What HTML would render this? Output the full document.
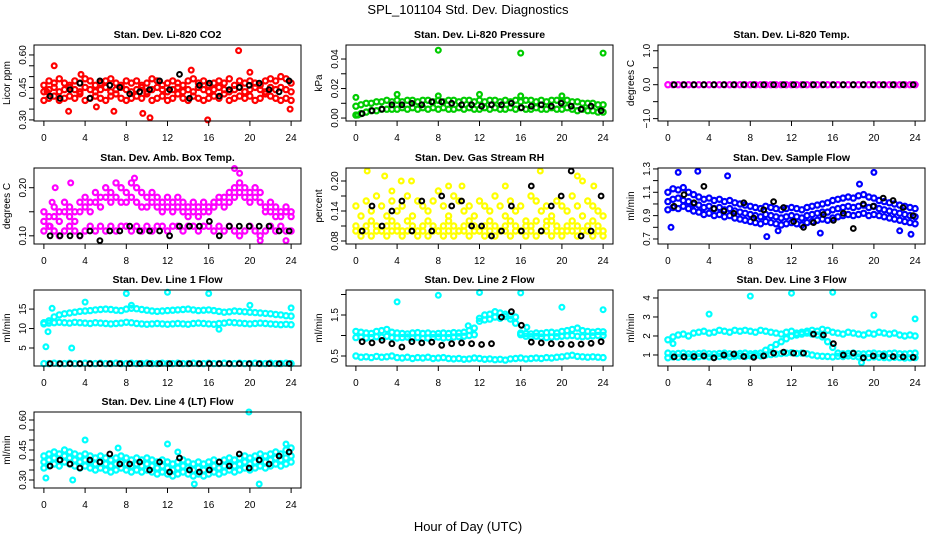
<!DOCTYPE html>
<html><head><meta charset="utf-8"><style>
html,body{margin:0;padding:0;background:#fff;}
svg{display:block;font-family:"Liberation Sans",sans-serif;}
</style></head><body>
<svg id="chart" width="936" height="540" viewBox="0 0 936 540" xmlns="http://www.w3.org/2000/svg">
<text x="468" y="14" text-anchor="middle" font-size="13">SPL_101104  Std. Dev. Diagnostics</text>
<text x="468" y="531" text-anchor="middle" font-size="13">Hour of Day (UTC)</text>
</svg>
<script>
// ---- data (half-hourly colored values, hourly black values) ----
const hourTicks = [0,4,8,12,16,20,24];
// P1 CO2
const co2Low  = [0.39,0.40,0.41,0.39,0.40,0.41,0.40,0.42,0.39,0.40,0.41,0.40,0.39,0.41,0.42,0.40,0.39,0.40,0.41,0.40,0.42,0.39,0.40,0.41,0.39,0.40,0.42,0.40,0.39,0.41,0.40,0.39,0.40,0.41,0.40,0.42,0.39,0.40,0.41,0.40,0.41,0.39,0.40,0.42,0.41,0.40,0.39,0.40,0.39];
const co2Mid  = [0.43,0.44,0.45,0.43,0.44,0.45,0.44,0.43,0.45,0.44,0.43,0.44,0.45,0.43,0.44,0.45,0.44,0.43,0.44,0.45,0.43,0.44,0.45,0.44,0.43,0.44,0.45,0.43,0.44,0.43,0.45,0.44,0.43,0.44,0.45,0.44,0.43,0.44,0.45,0.43,0.44,0.45,0.44,0.43,0.45,0.44,0.45,0.44,0.43];
const co2High = [0.46,0.48,0.47,0.49,0.47,0.46,0.48,0.47,0.49,0.48,0.46,0.47,0.48,0.49,0.47,0.46,0.48,0.47,0.48,0.46,0.47,0.49,0.48,0.46,0.47,0.48,0.47,0.46,0.48,0.49,0.47,0.48,0.46,0.47,0.48,0.47,0.49,0.46,0.48,0.47,0.48,0.47,0.46,0.48,0.49,0.48,0.50,0.49,0.47];
const co2OutT = [1.0,18.9,10.3,15.9,14.3,20.0,9.6,0.3,2.4,6.8,23.9,3.6,5.1];
const co2OutV = [0.55,0.62,0.31,0.30,0.53,0.52,0.33,0.43,0.34,0.34,0.35,0.51,0.36];
const co2Black = [0.41,0.40,0.44,0.47,0.40,0.48,0.46,0.45,0.42,0.43,0.44,0.48,0.44,0.51,0.40,0.46,0.47,0.41,0.44,0.45,0.46,0.47,0.44,0.43,0.48];
// P2 pressure
const prLow  = [0.002,0.003,0.004,0.005,0.005,0.006,0.006,0.006,0.006,0.007,0.006,0.007,0.006,0.007,0.006,0.007,0.006,0.007,0.006,0.006,0.007,0.006,0.007,0.006,0.006,0.007,0.006,0.007,0.006,0.006,0.007,0.006,0.007,0.006,0.006,0.007,0.006,0.006,0.007,0.006,0.006,0.007,0.006,0.005,0.006,0.005,0.005,0.004,0.004];
const prHigh = [0.008,0.009,0.010,0.010,0.011,0.011,0.012,0.011,0.012,0.011,0.012,0.012,0.011,0.012,0.012,0.011,0.012,0.011,0.012,0.012,0.011,0.012,0.012,0.011,0.012,0.011,0.012,0.012,0.011,0.012,0.011,0.012,0.011,0.012,0.012,0.011,0.012,0.011,0.012,0.012,0.011,0.012,0.011,0.011,0.010,0.010,0.010,0.009,0.009];
const prOutT = [8.0,16.0,24.0,0.0,4.0,12.0,8.0,16.0,20.0,0.2];
const prOutV = [0.046,0.044,0.044,0.014,0.016,0.016,0.015,0.015,0.015,0.002];
const prBlack = [0.003,0.005,0.006,0.009,0.009,0.010,0.009,0.011,0.011,0.010,0.009,0.009,0.008,0.009,0.009,0.010,0.007,0.008,0.009,0.008,0.010,0.008,0.006,0.008,0.005];
// P3 temp
const tmpVals = [0,0,0,0,0,0,0,0,0,0,0,0,0,0,0,0,0,0,0,0,0,0,0,0,0,0,0,0,0,0,0,0,0,0,0,0,0,0,0,0,0,0,0,0,0,0,0,0,0];
const tmpBlack = [0,0,0,0,0,0,0,0,0,0,0,0,0,0,0,0,0,0,0,0,0,0,0,0,0];
// P4 amb box temp
const boxHigh = [0.15,0.14,0.16,0.15,0.17,0.16,0.15,0.17,0.18,0.17,0.19,0.18,0.20,0.19,0.21,0.20,0.19,0.21,0.20,0.19,0.18,0.19,0.18,0.17,0.18,0.17,0.18,0.17,0.16,0.17,0.16,0.17,0.16,0.17,0.18,0.18,0.19,0.20,0.21,0.20,0.19,0.20,0.19,0.16,0.17,0.16,0.15,0.16,0.15];
const boxMid  = [0.13,0.12,0.14,0.13,0.15,0.14,0.13,0.15,0.16,0.15,0.17,0.16,0.18,0.17,0.18,0.17,0.17,0.18,0.17,0.16,0.16,0.17,0.16,0.15,0.16,0.15,0.16,0.15,0.14,0.15,0.14,0.15,0.15,0.16,0.17,0.16,0.17,0.18,0.19,0.18,0.17,0.18,0.17,0.15,0.15,0.14,0.14,0.15,0.14];
const boxLow  = [0.11,0.12,0.11,0.10,0.11,0.12,0.11,0.10,0.11,0.12,0.11,0.12,0.11,0.12,0.11,0.12,0.12,0.11,0.12,0.11,0.12,0.11,0.12,0.12,0.11,0.12,0.12,0.11,0.12,0.12,0.11,0.12,0.12,0.11,0.12,0.11,0.12,0.11,0.10,0.11,0.12,0.11,0.10,0.11,0.12,0.11,0.12,0.11,0.11];
const boxOutT = [18.5,19.0,8.8,2.6,1.1,0.8,21.0,0.6,23.5];
const boxOutV = [0.24,0.23,0.22,0.21,0.20,0.17,0.09,0.12,0.09];
const boxBlack = [0.10,0.10,0.10,0.10,0.11,0.09,0.11,0.11,0.12,0.11,0.11,0.11,0.10,0.12,0.12,0.12,0.13,0.10,0.12,0.12,0.12,0.12,0.12,0.11,0.11];
// P5 RH
const rhLow  = [0.10,0.09,0.10,0.09,0.10,0.10,0.09,0.10,0.10,0.09,0.10,0.10,0.09,0.10,0.09,0.10,0.10,0.09,0.10,0.09,0.10,0.10,0.09,0.10,0.10,0.09,0.10,0.09,0.10,0.10,0.09,0.10,0.10,0.09,0.10,0.09,0.10,0.10,0.09,0.10,0.09,0.10,0.10,0.09,0.10,0.10,0.09,0.10,0.09];
const rhMid  = [0.11,0.10,0.11,0.12,0.11,0.10,0.11,0.12,0.11,0.10,0.12,0.11,0.10,0.11,0.12,0.11,0.10,0.11,0.12,0.11,0.10,0.11,0.12,0.11,0.10,0.11,0.12,0.11,0.10,0.11,0.12,0.11,0.10,0.11,0.11,0.12,0.10,0.11,0.12,0.11,0.10,0.11,0.12,0.11,0.10,0.11,0.12,0.11,0.10];
const rhHigh = [0.15,0.13,0.16,0.14,0.17,0.15,0.13,0.16,0.14,0.15,0.17,0.13,0.16,0.15,0.14,0.16,0.18,0.15,0.13,0.17,0.16,0.14,0.15,0.13,0.16,0.15,0.14,0.17,0.15,0.13,0.16,0.14,0.15,0.12,0.17,0.16,0.14,0.15,0.13,0.16,0.15,0.14,0.17,0.15,0.13,0.16,0.15,0.14,0.13];
const rhOutT = [1.1,2.8,4.4,5.4,9.0,10.3,17.9,21.5,22.0,23.1,3.5,14.5,18.5];
const rhOutV = [0.22,0.21,0.20,0.20,0.19,0.19,0.22,0.21,0.20,0.19,0.18,0.19,0.12];
const rhBlack = [0.10,0.15,0.11,0.14,0.16,0.10,0.16,0.10,0.17,0.15,0.16,0.11,0.11,0.09,0.10,0.15,0.10,0.19,0.10,0.15,0.17,0.22,0.09,0.10,0.17];
// P6 sample flow
const sfLow  = [0.95,0.97,0.96,0.98,0.96,0.94,0.93,0.91,0.92,0.90,0.91,0.89,0.90,0.88,0.87,0.86,0.85,0.84,0.83,0.85,0.84,0.83,0.82,0.83,0.84,0.83,0.82,0.84,0.85,0.86,0.87,0.86,0.88,0.89,0.90,0.91,0.90,0.91,0.92,0.90,0.91,0.90,0.89,0.88,0.87,0.86,0.85,0.84,0.83];
const sfMid  = [1.02,1.04,1.05,1.03,1.02,1.00,0.99,0.97,0.98,0.96,0.97,0.95,0.96,0.94,0.93,0.92,0.91,0.90,0.89,0.91,0.90,0.89,0.88,0.89,0.90,0.89,0.88,0.90,0.91,0.92,0.93,0.93,0.95,0.96,0.97,0.98,0.97,0.98,0.99,0.97,0.98,0.96,0.95,0.94,0.93,0.92,0.91,0.90,0.89];
const sfHigh = [1.10,1.13,1.12,1.14,1.10,1.08,1.06,1.04,1.05,1.03,1.04,1.02,1.03,1.01,1.00,0.99,0.98,0.97,0.96,0.98,0.97,0.96,0.95,0.96,0.97,0.96,0.95,0.97,0.98,0.99,1.00,1.01,1.03,1.04,1.05,1.06,1.05,1.07,1.08,1.06,1.05,1.03,1.02,1.01,1.00,0.99,0.98,0.97,0.96];
const sfOutT = [1.0,2.9,5.8,20.0,0.3,9.6,14.8,23.6,18.6,10.7,22.5];
const sfOutV = [1.27,1.28,1.24,1.27,0.80,0.72,0.75,0.74,1.17,0.77,0.77];
const sfBlack = [0.98,1.08,1.01,1.15,0.96,0.94,0.92,1.01,0.88,0.95,1.02,0.97,0.85,0.80,0.84,0.91,0.86,0.92,0.79,1.00,0.98,1.05,1.03,0.97,0.90];
// P7 line 1 flow
const l1Base = [1.0,1.0,1.1,1.0,1.0,1.1,1.0,1.0,1.1,1.0,1.0,1.1,1.0,1.0,1.1,1.0,1.0,1.1,1.0,1.0,1.1,1.0,1.0,1.1,1.0,1.0,1.1,1.0,1.0,1.1,1.0,1.0,1.1,1.0,1.0,1.1,1.0,1.0,1.1,1.0,1.0,1.1,1.0,1.0,1.1,1.0,1.0,1.1,1.0];
const l1Mid  = [11.2,11.4,11.5,11.6,11.5,11.4,11.6,11.5,11.4,11.3,11.5,11.4,11.3,11.2,11.3,11.4,11.6,11.5,11.3,11.2,11.1,11.2,11.3,11.2,11.1,11.2,11.3,11.2,11.1,11.3,11.4,11.3,11.2,11.1,11.3,11.4,11.6,11.5,11.4,11.3,11.2,11.3,11.4,11.3,11.2,11.1,11.0,11.1,11.0];
const l1High = [11.5,12.0,13.0,13.5,13.8,14.0,14.2,14.4,14.5,14.6,14.8,14.9,15.0,14.9,14.7,14.6,15.0,15.2,15.1,14.9,14.7,14.5,14.4,14.5,14.6,14.7,14.8,14.9,15.0,14.8,14.6,14.7,14.8,14.6,14.4,14.2,14.3,14.5,14.4,14.3,14.2,14.1,14.0,13.9,13.8,13.6,13.5,13.3,13.2];
const l1OutT = [8.0,12.0,16.0,4.0,20.0,24.0,0.2,0.4,2.7,0.8,8.5,17.0];
const l1OutV = [19.0,19.3,19.0,16.8,16.0,15.3,5.3,9.2,5.0,15.2,16.0,9.8];
const l1Black = [1.0,1.0,1.0,1.0,1.0,1.0,1.0,1.0,1.0,1.0,1.0,1.0,1.0,1.0,1.0,1.0,1.0,1.0,1.0,1.0,1.0,1.0,1.0,1.0,1.0];
// P8 line 2 flow
const l2Low  = [0.50,0.47,0.48,0.46,0.49,0.47,0.48,0.50,0.46,0.45,0.47,0.44,0.46,0.45,0.47,0.44,0.45,0.46,0.44,0.43,0.44,0.42,0.43,0.45,0.44,0.42,0.43,0.41,0.42,0.40,0.43,0.44,0.45,0.43,0.44,0.45,0.44,0.46,0.45,0.47,0.48,0.50,0.52,0.49,0.48,0.47,0.48,0.47,0.46];
const l2Mid  = [0.95,0.96,0.94,0.95,0.97,0.96,0.98,0.95,0.94,0.95,0.96,0.94,0.95,0.93,0.94,0.95,0.96,0.94,0.95,0.96,0.97,0.98,1.00,1.02,1.35,1.38,1.40,1.45,1.42,1.46,1.40,1.30,1.02,0.98,0.97,0.98,0.96,0.95,0.96,0.97,0.98,0.99,1.00,0.98,0.97,0.98,0.99,1.00,1.00];
const l2High = [1.10,1.08,1.06,1.05,1.10,1.12,1.15,1.08,1.06,1.05,1.04,1.06,1.07,1.05,1.06,1.04,1.05,1.06,1.05,1.07,1.06,1.08,1.12,1.18,1.42,1.50,1.52,1.58,1.55,1.52,1.48,1.45,1.06,1.05,1.04,1.06,1.05,1.07,1.08,1.06,1.10,1.12,1.15,1.18,1.12,1.10,1.08,1.10,1.09];
const l2OutT = [4.0,8.0,12.0,16.0,20.0,24.0,10.9,16.6];
const l2OutV = [1.82,1.98,2.05,2.04,1.69,1.63,1.24,1.20];
const l2Black = [0.85,0.82,0.88,0.80,0.72,0.85,0.82,0.84,0.76,0.80,0.82,0.80,0.78,0.80,1.45,1.58,1.25,0.84,0.82,0.80,0.79,0.78,0.79,0.81,0.85];
// P9 line 3 flow
const l3Low  = [0.85,0.90,0.88,0.92,0.90,0.88,0.91,0.93,0.90,0.88,0.92,0.95,0.90,0.93,0.95,0.92,0.95,0.97,0.95,1.00,1.02,1.05,1.08,1.10,1.12,1.08,1.10,1.06,1.00,0.95,0.93,0.92,0.90,0.93,0.92,0.95,0.93,0.90,0.88,0.86,0.90,0.88,0.86,0.85,0.88,0.86,0.84,0.85,0.86];
const l3Mid  = [1.10,1.05,1.08,1.10,1.06,1.05,1.08,1.10,1.06,1.05,1.08,1.10,1.06,1.05,1.08,1.10,1.06,1.08,1.10,1.25,1.40,1.55,1.70,1.85,2.00,2.05,2.10,2.15,2.10,2.05,1.95,1.70,1.40,1.10,1.06,1.08,1.10,1.06,1.05,1.08,1.10,1.06,1.05,1.08,1.10,1.06,1.05,1.08,1.10];
const l3High = [1.80,1.95,2.05,2.10,2.00,2.15,2.20,2.25,2.15,2.20,2.30,2.25,2.20,2.30,2.25,2.30,2.25,2.20,2.30,2.25,2.20,2.15,2.10,2.20,2.25,2.15,2.20,2.25,2.30,2.25,2.35,2.30,2.20,2.15,2.10,2.20,2.15,2.10,2.05,2.15,2.10,2.20,2.15,2.10,2.15,2.05,2.00,2.05,2.00];
const l3OutT = [4.0,8.0,12.0,16.0,20.0,24.0,0.5,18.8];
const l3OutV = [3.15,4.10,4.25,4.30,3.10,2.90,1.60,0.60];
const l3Black = [0.90,0.90,0.92,0.95,0.85,1.00,1.05,0.92,0.88,0.95,1.10,1.15,1.10,1.10,2.10,2.05,1.60,1.00,1.10,0.85,0.95,0.95,0.92,0.90,0.88];
// P10 line 4 flow
const l4Low  = [0.36,0.37,0.38,0.37,0.39,0.38,0.37,0.36,0.37,0.36,0.35,0.36,0.35,0.34,0.35,0.36,0.35,0.34,0.35,0.34,0.35,0.34,0.33,0.34,0.33,0.32,0.33,0.34,0.33,0.32,0.33,0.32,0.33,0.34,0.33,0.34,0.35,0.34,0.35,0.36,0.35,0.36,0.37,0.36,0.37,0.38,0.37,0.38,0.39];
const l4Mid  = [0.39,0.40,0.41,0.40,0.42,0.41,0.40,0.39,0.40,0.39,0.38,0.39,0.38,0.37,0.38,0.39,0.38,0.37,0.38,0.37,0.38,0.37,0.36,0.37,0.36,0.35,0.36,0.37,0.36,0.35,0.36,0.35,0.36,0.37,0.36,0.37,0.38,0.37,0.38,0.39,0.38,0.39,0.40,0.39,0.40,0.41,0.40,0.41,0.42];
const l4High = [0.42,0.43,0.44,0.43,0.45,0.44,0.43,0.42,0.43,0.42,0.41,0.42,0.41,0.40,0.41,0.42,0.41,0.40,0.41,0.40,0.41,0.40,0.39,0.40,0.39,0.38,0.39,0.40,0.39,0.38,0.39,0.38,0.39,0.40,0.39,0.40,0.41,0.40,0.41,0.42,0.41,0.42,0.43,0.42,0.43,0.44,0.43,0.45,0.46];
const l4OutT = [4.0,19.9,12.0,0.2,2.8,20.9,14.6,13.0,23.5,7.2];
const l4OutV = [0.50,0.64,0.48,0.31,0.30,0.28,0.28,0.44,0.48,0.46];
const l4Black = [0.37,0.40,0.38,0.36,0.40,0.39,0.43,0.38,0.38,0.39,0.35,0.39,0.34,0.41,0.35,0.34,0.35,0.39,0.37,0.43,0.36,0.40,0.38,0.42,0.44];

// ---- layout ----
const NS = "http://www.w3.org/2000/svg";
const svg = document.getElementById('chart');
const panels = [
 {id:'co2', title:'Stan. Dev. Li-820 CO2', ylab:'Licor ppm', col:'#ff0000', lo:0.295, hi:0.646, ticks:[0.30,0.35,0.40,0.45,0.50,0.55,0.60], labels:['0.30','','','0.45','','','0.60'], series:[co2Low,co2Mid,co2High], outT:co2OutT, outV:co2OutV, black:co2Black},
 {id:'pressure', title:'Stan. Dev. Li-820 Pressure', ylab:'kPa', col:'#00cc00', lo:-0.002, hi:0.0495, ticks:[0,0.01,0.02,0.03,0.04], labels:['0.00','','0.02','','0.04'], series:[prLow,prHigh], outT:prOutT, outV:prOutV, black:prBlack},
 {id:'temp', title:'Stan. Dev. Li-820 Temp.', ylab:'degrees C', col:'#ff00ff', lo:-1.07, hi:1.17, ticks:[-1,-0.5,0,0.5,1], labels:['\u22121.0','','0.0','','1.0'], series:[tmpVals], outT:[], outV:[], black:tmpBlack},
 {id:'ambbox', title:'Stan. Dev. Amb. Box Temp.', ylab:'degrees C', col:'#ff00ff', lo:0.083, hi:0.241, ticks:[0.10,0.15,0.20], labels:['0.10','','0.20'], series:[boxLow,boxMid,boxHigh], outT:boxOutT, outV:boxOutV, black:boxBlack},
 {id:'rh', title:'Stan. Dev. Gas Stream RH', ylab:'percent', col:'#ffff00', lo:0.074, hi:0.226, ticks:[0.08,0.11,0.14,0.17,0.20], labels:['0.08','','0.14','','0.20'], series:[rhLow,rhMid,rhHigh], outT:rhOutT, outV:rhOutV, black:rhBlack},
 {id:'sample', title:'Stan. Dev. Sample Flow', ylab:'ml/min', col:'#0000ff', lo:0.657, hi:1.308, ticks:[0.7,0.8,0.9,1.0,1.1,1.2,1.3], labels:['0.7','','0.9','','1.1','','1.3'], series:[sfLow,sfMid,sfHigh], outT:sfOutT, outV:sfOutV, black:sfBlack},
 {id:'line1', title:'Stan. Dev. Line 1 Flow', ylab:'ml/min', col:'#00ffff', lo:0.38, hi:19.9, ticks:[5,10,15], labels:['5','10','15'], series:[l1Base,l1Mid,l1High], outT:l1OutT, outV:l1OutV, black:l1Black},
 {id:'line2', title:'Stan. Dev. Line 2 Flow', ylab:'ml/min', col:'#00ffff', lo:0.256, hi:2.11, ticks:[0.5,1.0,1.5,2.0], labels:['0.5','','1.5',''], series:[l2Low,l2Mid,l2High], outT:l2OutT, outV:l2OutV, black:l2Black},
 {id:'line3', title:'Stan. Dev. Line 3 Flow', ylab:'ml/min', col:'#00ffff', lo:0.42, hi:4.42, ticks:[1,2,3,4], labels:['1','2','3','4'], series:[l3Low,l3Mid,l3High], outT:l3OutT, outV:l3OutV, black:l3Black},
 {id:'line4', title:'Stan. Dev. Line 4 (LT) Flow', ylab:'ml/min', col:'#00ffff', lo:0.26, hi:0.64, ticks:[0.30,0.35,0.40,0.45,0.50,0.55,0.60], labels:['0.30','','','0.45','','','0.60'], series:[l4Low,l4Mid,l4High], outT:l4OutT, outV:l4OutV, black:l4Black}
];
const rowTops = [45,168,290,412];
const W = 267, H = 76;

function mk(tag, attrs, parent){
  const e = document.createElementNS(NS, tag);
  for (const k in attrs) e.setAttribute(k, attrs[k]);
  (parent||svg).appendChild(e);
  return e;
}

panels.forEach((p, idx) => {
  const c = idx % 3, r = Math.floor(idx / 3);
  const L = 34 + 312 * c, T = rowTops[r], B = T + H, R = L + W;
  const pad = W * 0.04 / 1.08;
  const xs = t => L + pad + t / 24 * (W - 2 * pad);
  const ys = v => B - (v - p.lo) / (p.hi - p.lo) * H;
  const g = mk('g', {});
  
  

  const ttl = mk('text', {x: (L + R) / 2, y: T - 7, 'text-anchor': 'middle', 'font-size': 10.5, 'font-weight': 'bold'}, g);
  ttl.textContent = p.title;
  
  

  const yl = mk('text', {x: 0, y: 0, 'text-anchor': 'middle', 'font-size': 10, transform: 'translate(' + (L - 24) + ',' + ((T + B) / 2) + ') rotate(-90)'}, g);
  yl.textContent = p.ylab;
  
  

  // colored series
  const ptsG = mk('g', {fill: 'none', stroke: p.col, 'stroke-width': 2.2}, g);
  
  
  p.series.forEach(arr => {
    arr.forEach((v, i) => {
      const t = 24 * i / (arr.length - 1);
      const cc = mk('circle', {cx: xs(t).toFixed(1), cy: ys(v).toFixed(1), r: 2.6}, ptsG);
      
      
    });
  });
  p.outT.forEach((t, i) => {
    const cc = mk('circle', {cx: xs(t).toFixed(1), cy: ys(p.outV[i]).toFixed(1), r: 2.4}, ptsG);
    
    
  });
  // black series
  const bG = mk('g', {fill: 'none', stroke: '#000', 'stroke-width': 2}, g);
  
  
  p.black.forEach((v, i) => {
    const t = 0.6 + 23.2 * i / (p.black.length - 1);
    const cc = mk('circle', {cx: xs(t).toFixed(1), cy: ys(v).toFixed(1), r: 2.4}, bG);
    
    
  });

  // frame
  const fr = mk('rect', {x: L, y: T, width: W, height: H, fill: 'none', stroke: '#000', 'stroke-width': 1}, g);
  
  

  // x axis
  const xa = mk('g', {}, g);
  
  
  hourTicks.forEach(h => {
    const x = xs(h);
    mk('line', {x1: x, x2: x, y1: B, y2: B + 5, stroke: '#000'}, xa);
    const tx = mk('text', {x: x, y: B + 20, 'text-anchor': 'middle', 'font-size': 10}, xa);
    tx.textContent = h;
    
    
  });
  // y axis
  const ya = mk('g', {}, g);
  
  
  p.ticks.forEach((v, i) => {
    const y = ys(v);
    mk('line', {x1: L - 5, x2: L, y1: y, y2: y, stroke: '#000'}, ya);
    if (p.labels[i]) {
      const tx = mk('text', {x: 0, y: 0, 'text-anchor': 'middle', 'font-size': 10, transform: 'translate(' + (L - 8) + ',' + y + ') rotate(-90)'}, ya);
      tx.textContent = p.labels[i];
      
      
    }
  });
});
</script>
</body></html>
